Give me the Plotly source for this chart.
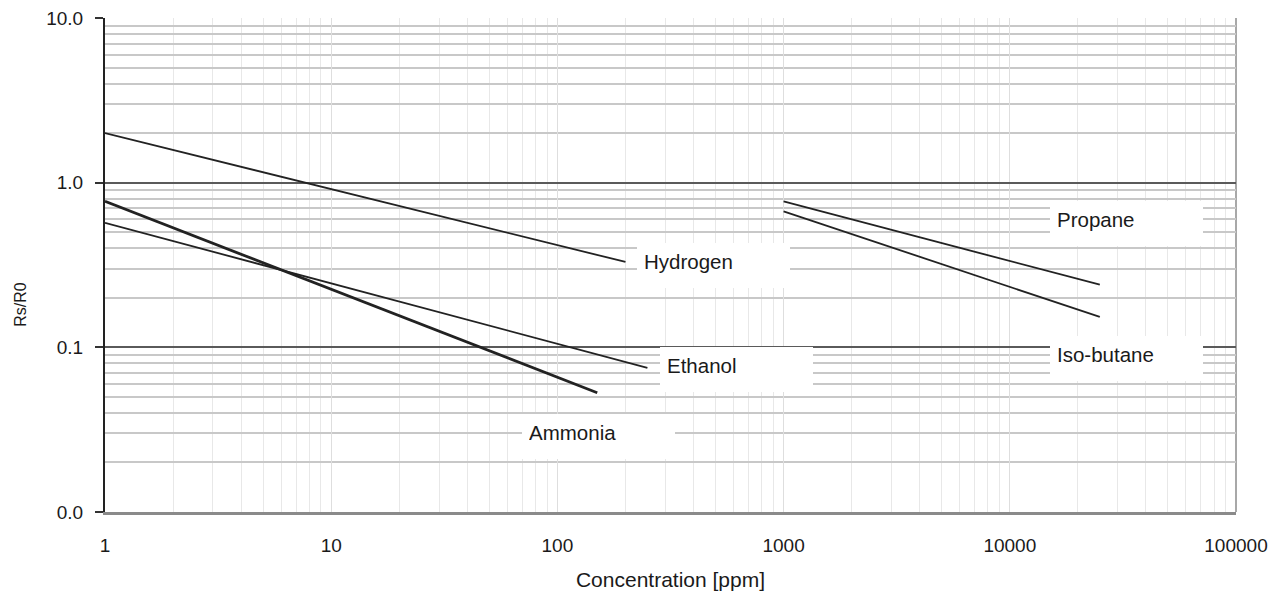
import math
import plotly.graph_objects as go

# Sensitivity curves: Rs/R0 versus gas concentration (ppm)
hydrogen_ppm = [1, 200]
hydrogen_ratio = [2.0, 0.33]

ethanol_ppm = [1, 250]
ethanol_ratio = [0.57, 0.075]

ammonia_ppm = [1, 150]
ammonia_ratio = [0.77, 0.053]

propane_ppm = [1000, 25000]
propane_ratio = [0.77, 0.24]

isobutane_ppm = [1000, 25000]
isobutane_ratio = [0.67, 0.153]

x_tick_vals = [1, 10, 100, 1000, 10000, 100000]
x_tick_text = ["1", "10", "100", "1000", "10000", "100000"]
y_tick_vals = [0.01, 0.1, 1, 10]
y_tick_text = ["0.0", "0.1", "1.0", "10.0"]

# Gas name boxes: (name, left edge in ppm, top edge in Rs/R0)
label_names = ["Hydrogen", "Ethanol", "Ammonia", "Propane", "Iso-butane"]
label_ppm = [225, 284, 70, 15000, 15000]
label_ratio = [0.433, 0.1, 0.0393, 0.778, 0.117]

FONT = "Liberation Sans, Arial, sans-serif"
INK = "#1a1a1a"

fig = go.Figure()

series = [
    (hydrogen_ppm, hydrogen_ratio, 1.8),
    (ethanol_ppm, ethanol_ratio, 1.8),
    (ammonia_ppm, ammonia_ratio, 2.8),
    (propane_ppm, propane_ratio, 1.8),
    (isobutane_ppm, isobutane_ratio, 1.8),
]
for xs, ys, w in series:
    fig.add_trace(go.Scatter(
        x=xs, y=ys, mode="lines",
        line=dict(color="#222222", width=w),
        showlegend=False, hoverinfo="skip",
    ))

for name, px_, ry in zip(label_names, label_ppm, label_ratio):
    fig.add_annotation(
        x=math.log10(px_), y=math.log10(ry), xref="x", yref="y",
        xanchor="left", yanchor="top",
        text=name, showarrow=False,
        font=dict(family=FONT, size=20.5, color=INK),
        bgcolor="white", borderpad=7, borderwidth=0,
        width=139, height=31, align="left", valign="top",
    )

# Vertical axis caption
fig.add_annotation(
    x=-0.075, y=0.42, xref="paper", yref="paper",
    xanchor="center", yanchor="middle", textangle=-90,
    text="Rs/R0", showarrow=False,
    font=dict(family=FONT, size=16, color=INK),
)

# Right-hand frame of the plot area
fig.add_shape(type="line", xref="paper", yref="paper",
              x0=1, x1=1, y0=0, y1=1,
              line=dict(color="#a8a8a8", width=2), layer="below")

fig.update_layout(
    width=1271, height=592,
    margin=dict(l=105, r=35, t=18, b=80),
    paper_bgcolor="white", plot_bgcolor="white",
    font=dict(family=FONT, size=19, color=INK),
    xaxis=dict(
        type="log", range=[0, 5], automargin=False,
        tickvals=x_tick_vals, ticktext=x_tick_text,
        ticks="outside", ticklen=14, tickcolor="rgba(0,0,0,0)",
        showgrid=True, gridcolor="#dedede", gridwidth=1,
        minor=dict(dtick="D1", showgrid=True, gridcolor="#e8e8e8", gridwidth=1),
        showline=True, linecolor="#8a8a8a", linewidth=3,
        zeroline=False,
        title=dict(text="Concentration [ppm]", standoff=18,
                   font=dict(family=FONT, size=21, color=INK)),
        tickfont=dict(family=FONT, size=19, color=INK),
    ),
    yaxis=dict(
        type="log", range=[-2, 1], automargin=False,
        tickvals=y_tick_vals, ticktext=y_tick_text,
        ticks="outside", ticklen=8, tickcolor="#333333", tickwidth=2,
        ticklabelstandoff=8,
        showgrid=True, gridcolor="#5a5a5a", gridwidth=2,
        minor=dict(dtick="D1", showgrid=True, gridcolor="#c8c8c8", gridwidth=1.5),
        showline=True, linecolor="#222222", linewidth=2,
        zeroline=False,
        tickfont=dict(family=FONT, size=19, color=INK),
    ),
)

fig.write_html("out.html")
